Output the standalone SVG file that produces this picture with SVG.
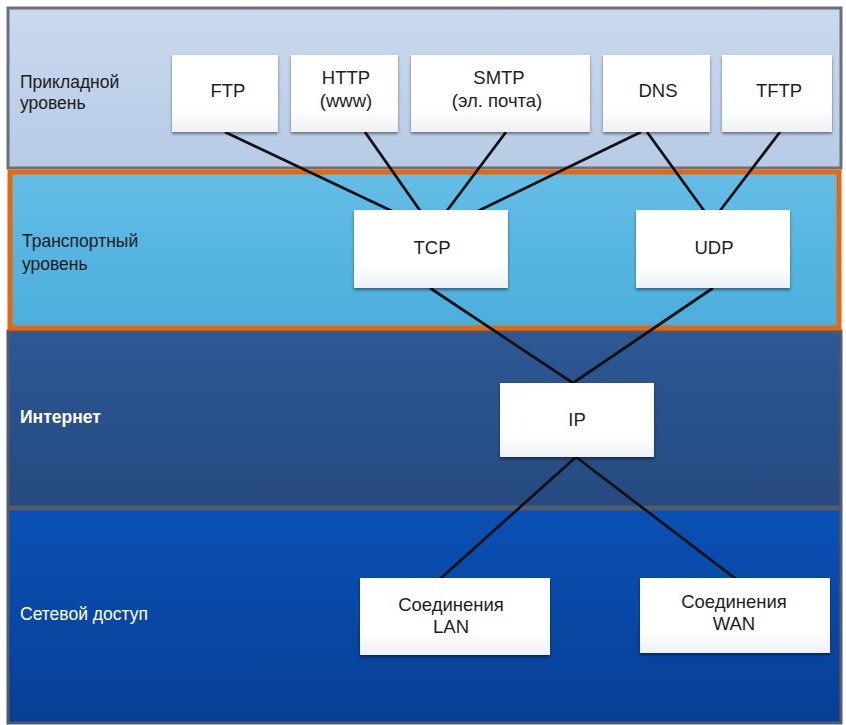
<svg xmlns="http://www.w3.org/2000/svg" width="846" height="725" viewBox="0 0 846 725">
<defs>
<linearGradient id="gApp" x1="0" y1="0" x2="0" y2="1"><stop offset="0" stop-color="#c9d9ee"/><stop offset="1" stop-color="#b7cbe6"/></linearGradient>
<linearGradient id="gTr" x1="0" y1="0" x2="0" y2="1"><stop offset="0" stop-color="#64bde6"/><stop offset="1" stop-color="#4aaedc"/></linearGradient>
<linearGradient id="gIn" x1="0" y1="0" x2="0" y2="1"><stop offset="0" stop-color="#2d5894"/><stop offset="1" stop-color="#244a80"/></linearGradient>
<linearGradient id="gNa" x1="0" y1="0" x2="0" y2="1"><stop offset="0" stop-color="#0a50b4"/><stop offset="1" stop-color="#083f96"/></linearGradient>
<linearGradient id="gBox" x1="0" y1="0" x2="0" y2="1"><stop offset="0" stop-color="#ffffff"/><stop offset="0.7" stop-color="#ffffff"/><stop offset="1" stop-color="#eef0f3"/></linearGradient>
<filter id="sh" x="-10%" y="-10%" width="120%" height="125%"><feDropShadow dx="0" dy="2" stdDeviation="1.5" flood-color="#000" flood-opacity="0.45"/></filter>
</defs>
<style>
.box{fill:url(#gBox);filter:url(#sh)}
.t{font-family:"Liberation Sans",Arial,sans-serif;font-size:18.5px;fill:#1e1e1e;text-anchor:middle}
.lbl{font-family:"Liberation Sans",Arial,sans-serif;font-size:17.5px}
.dk{fill:#1a1a1a}
.wt{fill:#ffffff}
.ln{stroke:#111;stroke-width:2.8;fill:none}
</style>
<rect width="846" height="725" fill="#ffffff"/>
<g id="layers">
<rect x="8" y="8" width="833" height="160" fill="url(#gApp)" stroke="#6b6f77" stroke-width="3"/>
<rect x="8" y="331" width="833" height="176" fill="url(#gIn)" stroke="#555b66" stroke-width="3"/>
<rect x="8" y="509" width="833" height="214" fill="url(#gNa)" stroke="#555b66" stroke-width="3"/>
<rect x="10" y="172" width="829" height="156" fill="url(#gTr)" stroke="#e8660c" stroke-width="5"/>
</g>
<g id="labels">
<text class="lbl dk" x="20" y="88">Прикладной</text>
<text class="lbl dk" x="20" y="109">уровень</text>
<text class="lbl dk" x="22" y="247">Транспортный</text>
<text class="lbl dk" x="22" y="270">уровень</text>
<text class="lbl wt" x="20" y="423" font-weight="bold">Интернет</text>
<text class="lbl wt" x="20" y="620">Сетевой доступ</text>
</g>
<g id="connectors">
<line class="ln" x1="225" y1="132" x2="394" y2="212"/>
<line class="ln" x1="365" y1="132" x2="421" y2="212"/>
<line class="ln" x1="506" y1="132" x2="446" y2="212"/>
<line class="ln" x1="641" y1="132" x2="476" y2="212"/>
<line class="ln" x1="647" y1="132" x2="705" y2="212"/>
<line class="ln" x1="780" y1="132" x2="719" y2="212"/>
<line class="ln" x1="430" y1="288" x2="573" y2="383"/>
<line class="ln" x1="713" y1="288" x2="573" y2="383"/>
<line class="ln" x1="576" y1="457" x2="440" y2="579"/>
<line class="ln" x1="576" y1="457" x2="736" y2="579"/>
</g>
<g id="ftp"><rect class="box" x="172" y="55" width="106" height="77"/><text class="t" x="228" y="97">FTP</text></g>
<g id="http"><rect class="box" x="291" y="55" width="107" height="77"/><text class="t" x="346" y="84">HTTP</text><text class="t" x="346" y="107">(www)</text></g>
<g id="smtp"><rect class="box" x="411" y="55" width="179" height="77"/><text class="t" x="499" y="84">SMTP</text><text class="t" x="497" y="107">(эл. почта)</text></g>
<g id="dns"><rect class="box" x="603" y="55" width="107" height="77"/><text class="t" x="658" y="97">DNS</text></g>
<g id="tftp"><rect class="box" x="722" y="55" width="110" height="77"/><text class="t" x="779" y="97">TFTP</text></g>
<g id="tcp"><rect class="box" x="354" y="210" width="154" height="78"/><text class="t" x="432" y="254">TCP</text></g>
<g id="udp"><rect class="box" x="636" y="210" width="154" height="78"/><text class="t" x="714" y="254">UDP</text></g>
<g id="ip"><rect class="box" x="500" y="383" width="154" height="74"/><text class="t" x="577" y="426">IP</text></g>
<g id="lan"><rect class="box" x="360" y="578" width="190" height="77"/><text class="t" x="451" y="611">Соединения</text><text class="t" x="451" y="633">LAN</text></g>
<g id="wan"><rect class="box" x="640" y="578" width="190" height="75"/><text class="t" x="734" y="608">Соединения</text><text class="t" x="734" y="630">WAN</text></g>
</svg>
